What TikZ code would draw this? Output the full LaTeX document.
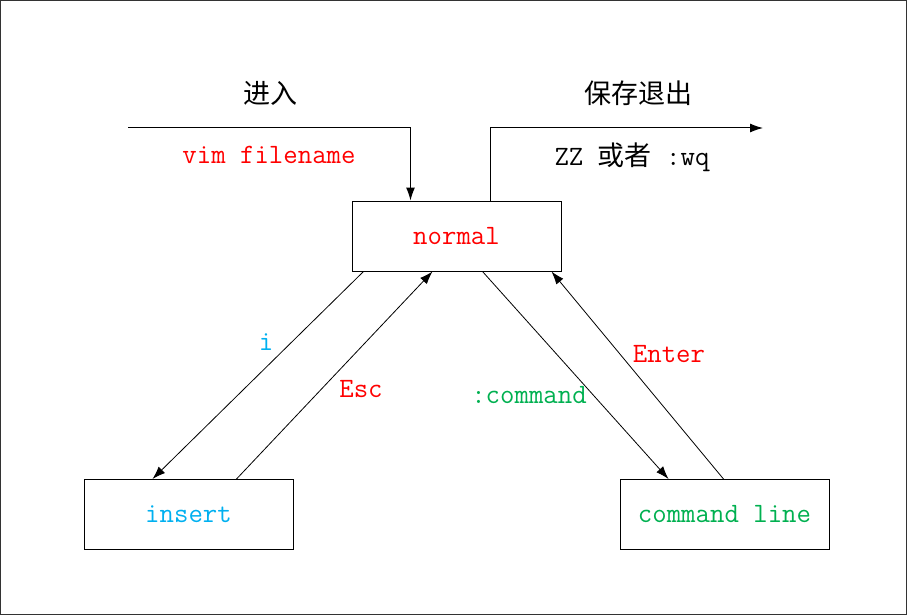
\documentclass[tikz,border=0pt]{standalone}
\usepackage{fontspec}
\newfontfamily\cjk{Noto Sans CJK SC}
\usetikzlibrary{arrows.meta,calc}
\definecolor{vred}{RGB}{255,0,0}
\definecolor{vblue}{RGB}{0,176,240}
\definecolor{vgreen}{RGB}{0,176,80}
\begin{document}
\begin{tikzpicture}[x=1pt,y=-1pt,
  box/.style={draw,line width=1pt,minimum width=209pt,minimum height=70pt,inner sep=0pt,
    font=\ttfamily\fontsize{28}{30}\selectfont},
  lbl/.style={inner sep=0pt,font=\ttfamily\fontsize{28}{30}\selectfont},
  cjklbl/.style={inner sep=0pt,font=\cjk\fontsize{27}{30}\selectfont},
  conn/.style={line width=0.8pt,-{Latex[length=13pt,width=9pt]}}]
\useasboundingbox (0,0) rectangle (907,615);
\draw[line width=1pt,black!80] (0.5,0.5) rectangle (906.5,614.5);
\node[box,text=vred] (normal) at (456.5,236) {normal};
\node[box,text=vblue] (insert) at (188.5,514.5) {insert};
\node[box,text=vgreen] (cmdline) at (724.5,514.5) {command line};
\coordinate (entry) at (128,128);
\coordinate (exit) at (763,128);
\draw[conn,line width=1pt] (entry) -| ($(normal.north west)+(59,0)$);
\draw[conn,line width=1pt] ($(normal.north west)+(139,0)$) |- (exit);
\draw[conn] ($(normal.south west)+(12,0)$) -- ($(insert.north west)+(69,0)$);
\draw[conn] ($(insert.north west)+(153,0)$) -- ($(normal.south west)+(81,0)$);
\draw[conn] ($(normal.south west)+(131,0)$) -- ($(cmdline.north west)+(49,0)$);
\draw[conn] ($(cmdline.north west)+(104,0)$) -- ($(normal.south west)+(200,0)$);
\node[cjklbl] (enterlbl) at (270,93) {进入};
\node[cjklbl] (exitlbl) at (638,93) {保存退出};
\node[lbl,text=vred] (vimlbl) at (269,155) {vim filename};
\node[inner sep=0pt] (zzlbl) at (632,157) {{\ttfamily\fontsize{28}{30}\selectfont ZZ }{\cjk\fontsize{27}{30}\selectfont 或者}{\ttfamily\fontsize{28}{30}\selectfont\ :wq}};
\node[lbl,text=vblue] (ilbl) at (266,342) {i};
\node[lbl,text=vred] (esclbl) at (361,389) {Esc};
\node[lbl,text=vgreen] (cmdlbl) at (529,395) {:command};
\node[lbl,text=vred] (enterkey) at (669,354) {Enter};
\end{tikzpicture}
\end{document}
